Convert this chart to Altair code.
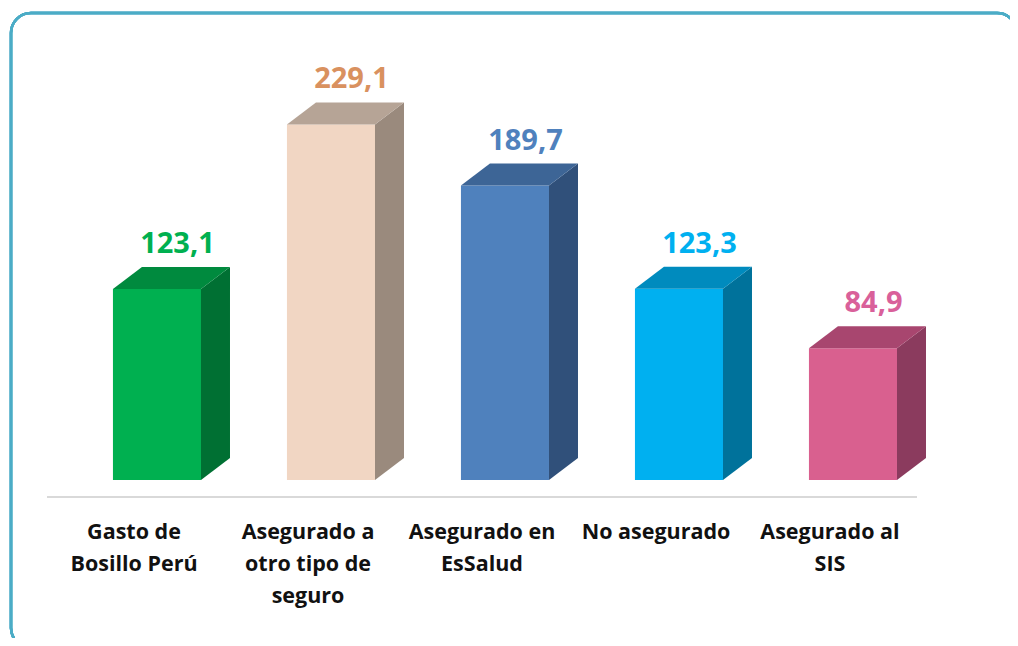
import altair as alt
import pandas as pd

# ---- data ----
categories = [
    "Gasto de\nBosillo Perú",
    "Asegurado a\notro tipo de\nseguro",
    "Asegurado en\nEsSalud",
    "No asegurado",
    "Asegurado al\nSIS",
]
values = [123.1, 229.1, 189.7, 123.3, 84.9]
value_labels = ["123,1", "229,1", "189,7", "123,3", "84,9"]

# ---- styles ----
front_colors = ["#00B050", "#F1D6C3", "#4F81BD", "#00B0F0", "#D9608F"]
side_colors = ["#007033", "#9A8A7D", "#30507A", "#00729B", "#8B3B5E"]
top_colors = ["#008A3E", "#B6A496", "#3D6596", "#008BBE", "#A8466F"]
label_colors = ["#00B050", "#D9915F", "#4F81BD", "#00B0F0", "#D9609A"]

L_OFF, R_OFF = 0.379, 0.885      # front face inside each category band
DX, DY = 0.1667, 14.18           # 3D depth (x in band units, y in value units)

front_rows, side_rows, top_rows, lab_rows, cat_rows = [], [], [], [], []
for i, (c, v) in enumerate(zip(categories, values)):
    L, R = i + L_OFF, i + R_OFF
    front_rows.append(dict(cat=i, x=L, x2=R, y=0.0, y2=v, col=front_colors[i]))
    side_rows += [
        dict(cat=i, x=R, lo=0.0, hi=v, col=side_colors[i]),
        dict(cat=i, x=R + DX, lo=DY, hi=v + DY, col=side_colors[i]),
    ]
    top_rows += [
        dict(cat=i, x=L, lo=v, hi=v, col=top_colors[i]),
        dict(cat=i, x=L + DX, lo=v, hi=v + DY, col=top_colors[i]),
        dict(cat=i, x=R, lo=v, hi=v + DY, col=top_colors[i]),
        dict(cat=i, x=R + DX, lo=v + DY, hi=v + DY, col=top_colors[i]),
    ]
    lab_rows.append(dict(cat=i, x=i + 0.75, y=v, txt=value_labels[i], col=label_colors[i]))
    cat_rows.append(dict(cat=i, x=i + 0.5, txt=c))

front_df = pd.DataFrame(front_rows)
side_df = pd.DataFrame(side_rows)
top_df = pd.DataFrame(top_rows)
lab_df = pd.DataFrame(lab_rows)
cat_df = pd.DataFrame(cat_rows)

xs = alt.Scale(domain=[-0.22414, 5.53448], nice=False, zero=False)
ys = alt.Scale(domain=[-101.8, 304.12], nice=False, zero=False)

front = alt.Chart(front_df).mark_rect().encode(
    x=alt.X("x:Q", scale=xs, axis=None),
    x2="x2",
    y=alt.Y("y:Q", scale=ys, axis=None),
    y2="y2",
    color=alt.Color("col:N", scale=None),
)

side = alt.Chart(side_df).mark_area(interpolate="linear").encode(
    x=alt.X("x:Q", scale=xs, axis=None),
    y=alt.Y("lo:Q", scale=ys, axis=None, stack=None),
    y2="hi",
    detail="cat:N",
    color=alt.Color("col:N", scale=None),
)

top = alt.Chart(top_df).mark_area(interpolate="linear").encode(
    x=alt.X("x:Q", scale=xs, axis=None),
    y=alt.Y("lo:Q", scale=ys, axis=None, stack=None),
    y2="hi",
    detail="cat:N",
    color=alt.Color("col:N", scale=None),
)

vlabels = alt.Chart(lab_df).mark_text(
    font="Open Sans", fontWeight="bold", fontSize=29, dy=-45, baseline="middle", align="center"
).encode(
    x=alt.X("x:Q", scale=xs, axis=None),
    y=alt.Y("y:Q", scale=ys, axis=None),
    text="txt:N",
    color=alt.Color("col:N", scale=None),
)

clabels = alt.Chart(cat_df).mark_text(
    font="Open Sans", fontWeight="bold", fontSize=21.5, lineBreak="\n", lineHeight=32,
    baseline="top", align="center", color="#111111"
).encode(
    x=alt.X("x:Q", scale=xs, axis=None),
    y=alt.Y(datum=-26.8, scale=ys, axis=None),
    text="txt:N",
)

baseline = alt.Chart(cat_df).mark_rule(color="#D9D9D9", strokeWidth=2).encode(
    x=alt.X(datum=0, scale=xs, axis=None),
    x2=alt.X2(datum=5),
    y=alt.Y(datum=-10.95, scale=ys, axis=None),
)

border = alt.Chart(cat_df).mark_rect(
    filled=False, color="#4BACC6", strokeWidth=2.5, cornerRadius=20
).encode(
    x=alt.value(3), x2=alt.value(1009), y=alt.value(5), y2=alt.value(640)
)

chart = alt.layer(border, baseline, front, side, top, vlabels, clabels).properties(
    width=1002, height=630, padding=0, autosize=alt.AutoSizeParams(type="none"),
    background="white",
).configure_view(strokeWidth=0)

chart.save("out.html", embed_options={"renderer": "svg", "actions": False})
